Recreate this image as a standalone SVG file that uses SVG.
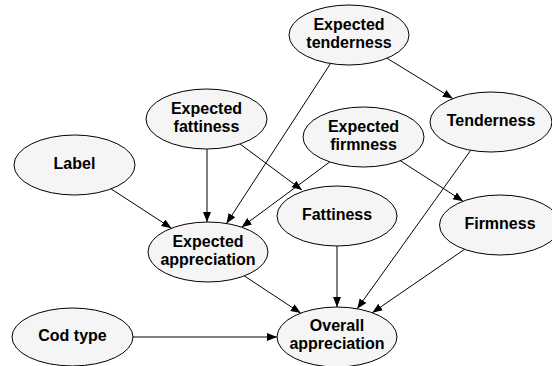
<svg xmlns="http://www.w3.org/2000/svg" width="552" height="366" viewBox="0 0 552 366">
<style>
.n ellipse{fill:#f5f5f5;stroke:#000;stroke-width:1}
.n text{font-family:"Liberation Sans",Arial,sans-serif;font-weight:bold;font-size:16px;text-anchor:middle;fill:#000}
.e line{stroke:#000;stroke-width:1;marker-end:url(#arr)}
</style>
<defs>
<marker id="arr" markerUnits="userSpaceOnUse" markerWidth="11" markerHeight="9" refX="10" refY="4" orient="auto">
<path d="M0,0 L10,4 L0,8 z" fill="#000"/>
</marker>
</defs>
<rect width="552" height="366" fill="#fff"/>
<g id="edges" class="e">
<line x1="111.1" y1="188.9" x2="171.5" y2="228.2"/>
<line x1="207" y1="149" x2="207" y2="222"/>
<line x1="240.1" y1="144" x2="302" y2="190"/>
<line x1="329.8" y1="161.9" x2="241.6" y2="227.2"/>
<line x1="330.5" y1="63.5" x2="226.5" y2="223.5"/>
<line x1="386.9" y1="58.2" x2="452.8" y2="98.6"/>
<line x1="400.4" y1="160.8" x2="463.1" y2="201.2"/>
<line x1="470.7" y1="150.3" x2="357.2" y2="308.8"/>
<line x1="337" y1="246" x2="337" y2="307"/>
<line x1="464.6" y1="249.3" x2="372.3" y2="312.7"/>
<line x1="244.3" y1="275.9" x2="300.7" y2="313.1"/>
<line x1="133" y1="337" x2="277" y2="337"/>
</g>
<g id="expected_tenderness" class="n"><ellipse cx="349" cy="35" rx="60" ry="30"/><text x="349" y="30">Expected</text><text x="349" y="48">tenderness</text></g>
<g id="expected_fattiness" class="n"><ellipse cx="206.5" cy="119" rx="60.5" ry="30"/><text x="206.5" y="114">Expected</text><text x="206.5" y="132">fattiness</text></g>
<g id="label" class="n"><ellipse cx="74.5" cy="165" rx="60.5" ry="30"/><text x="74.5" y="169">Label</text></g>
<g id="tenderness" class="n"><ellipse cx="491" cy="122" rx="61" ry="30"/><text x="491" y="126">Tenderness</text></g>
<g id="expected_firmness" class="n"><ellipse cx="363.5" cy="137" rx="60.5" ry="30"/><text x="363.5" y="132">Expected</text><text x="363.5" y="150">firmness</text></g>
<g id="fattiness" class="n"><ellipse cx="337" cy="216" rx="60" ry="30"/><text x="337" y="220">Fattiness</text></g>
<g id="firmness" class="n"><ellipse cx="500" cy="225" rx="60.5" ry="30"/><text x="500" y="229">Firmness</text></g>
<g id="expected_appreciation" class="n"><ellipse cx="208" cy="252" rx="60" ry="30"/><text x="208" y="247">Expected</text><text x="208" y="265">appreciation</text></g>
<g id="cod_type" class="n"><ellipse cx="72.5" cy="337" rx="60.5" ry="29"/><text x="72.5" y="341">Cod type</text></g>
<g id="overall_appreciation" class="n"><ellipse cx="337" cy="337" rx="60" ry="30"/><text x="337" y="331">Overall</text><text x="337" y="349">appreciation</text></g>
</svg>
